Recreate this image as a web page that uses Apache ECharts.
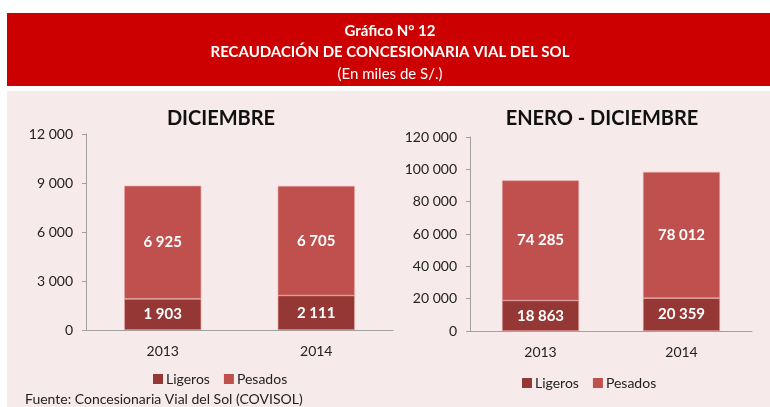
<!DOCTYPE html>
<html>
<head>
<meta charset="utf-8">
<script src="https://cdn.jsdelivr.net/npm/echarts@6/dist/echarts.min.js"></script>
<style>
  html, body { margin: 0; padding: 0; background: #fff; }
  #main { width: 770px; height: 407px; }
</style>
</head>
<body>
<div id="main"></div>
<script>
// datos del grafico
var categories = ['2013', '2014'];
var dicLigeros = [1903, 2111];
var dicPesados = [6925, 6705];
var anualLigeros = [18863, 20359];
var anualPesados = [74285, 78012];
var seriesNames = ['Ligeros', 'Pesados'];

var colorLigeros = '#953735';
var colorPesados = '#C0504D';
var font = 'Lato';

function miles(v) {
  return String(Math.round(v)).replace(/\B(?=(\d{3})+(?!\d))/g, ' ');
}

var myChart = echarts.init(document.getElementById('main'));

function barSeries(name, data, idx, color) {
  return {
    name: name,
    type: 'bar',
    stack: 'total' + idx,
    xAxisIndex: idx,
    yAxisIndex: idx,
    barWidth: 77,
    data: data,
    itemStyle: { color: color, borderColor: '#e3a19f', borderWidth: 0.6 },
    label: {
      show: true,
      color: '#fff',
      fontFamily: font,
      fontWeight: 'bold',
      fontSize: 15,
      formatter: function (p) { return miles(p.value); }
    }
  };
}

var yAxisCommon = {
  type: 'value',
  axisLine: { show: true, lineStyle: { color: '#a0a0a0' } },
  axisTick: { show: true, length: 4, lineStyle: { color: '#a0a0a0' } },
  splitLine: { show: false },
  axisLabel: {
    color: '#222', fontFamily: font, fontSize: 14, margin: 13,
    formatter: function (v) { return miles(v); }
  }
};
var xAxisCommon = {
  type: 'category',
  data: categories,
  axisLine: { lineStyle: { color: '#a0a0a0' } },
  axisTick: { length: 4, lineStyle: { color: '#a0a0a0' } },
  axisLabel: { color: '#222', fontFamily: font, fontSize: 14, margin: 14 }
};
var legendCommon = {
  data: seriesNames, itemWidth: 10, itemHeight: 10, icon: 'rect', itemGap: 14,
  itemStyle: { borderWidth: 0 },
  textStyle: { fontFamily: font, fontSize: 14, color: '#222', padding: [0, 0, 0, -2] }
};

myChart.setOption({
  animation: false,
  graphic: [
    { type: 'rect', shape: { x: 7, y: 13, width: 763, height: 73 }, style: { fill: '#CC0000' }, z: -10 },
    { type: 'rect', shape: { x: 7, y: 91, width: 763, height: 316 }, style: { fill: '#F7EAEA' }, z: -10 },
    { type: 'text', left: 25, top: 392,
      style: { text: 'Fuente: Concesionaria Vial del Sol (COVISOL)', fill: '#222', font: '14px ' + font } }
  ],
  title: [
    { text: 'Gráfico N° 12', left: 385, top: 19, textAlign: 'center',
      textStyle: { color: '#fff', fontFamily: font, fontSize: 15, fontWeight: 'bold' } },
    { text: 'RECAUDACIÓN DE CONCESIONARIA VIAL DEL SOL', left: 385, top: 40, textAlign: 'center',
      textStyle: { color: '#fff', fontFamily: font, fontSize: 15, fontWeight: 'bold' } },
    { text: '(En miles de S/.)', left: 385, top: 62, textAlign: 'center',
      textStyle: { color: '#fff', fontFamily: font, fontSize: 15, fontWeight: 'normal' } },
    { text: 'DICIEMBRE', left: 216, top: 104, textAlign: 'center',
      textStyle: { color: '#111', fontFamily: font, fontSize: 20, fontWeight: 'bold' } },
    { text: 'ENERO - DICIEMBRE', left: 597, top: 104, textAlign: 'center',
      textStyle: { color: '#111', fontFamily: font, fontSize: 20, fontWeight: 'bold' } }
  ],
  legend: [
    Object.assign({ left: 148, top: 367 }, legendCommon),
    Object.assign({ left: 517, top: 371 }, legendCommon)
  ],
  grid: [
    { left: 86, right: 377, top: 134, bottom: 77 },
    { left: 470, right: 18, top: 137, bottom: 76 }
  ],
  xAxis: [
    Object.assign({ gridIndex: 0 }, xAxisCommon),
    Object.assign({ gridIndex: 1 }, xAxisCommon)
  ],
  yAxis: [
    Object.assign({ gridIndex: 0, min: 0, max: 12000, interval: 3000 }, yAxisCommon),
    Object.assign({ gridIndex: 1, min: 0, max: 120000, interval: 20000 }, yAxisCommon)
  ],
  series: [
    barSeries('Ligeros', dicLigeros, 0, colorLigeros),
    barSeries('Pesados', dicPesados, 0, colorPesados),
    barSeries('Ligeros', anualLigeros, 1, colorLigeros),
    barSeries('Pesados', anualPesados, 1, colorPesados)
  ]
});
</script>
</body>
</html>
